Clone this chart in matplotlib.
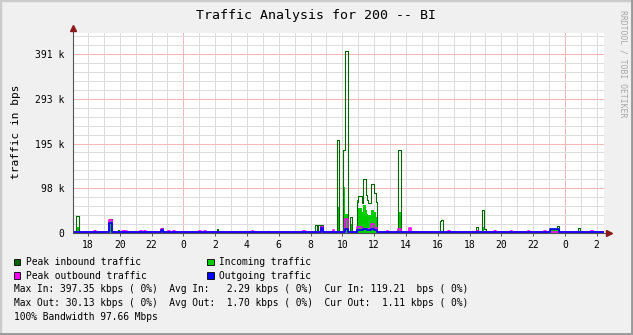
import numpy as np
import matplotlib
matplotlib.use('Agg')
import matplotlib.pyplot as plt
from matplotlib.lines import Line2D

# time axis in hours, 0 = first midnight; values in kbps
T_START, T_END = -6.94, 26.46

# (time, value) breakpoints, value holds until the next time
peak_in = [(-6.94, 2), (-6.75, 36), (-6.58, 2), (-4.65, 31), (-4.47, 2), (-4.12, 6), (-4.04, 2),
           (-1.42, 10), (-1.26, 2), (2.10, 8), (2.18, 2), (5.30, 4), (5.38, 2),
           (8.29, 17), (8.41, 2), (8.50, 17), (8.60, 2), (8.67, 17), (8.79, 2),
           (9.67, 204), (9.80, 2), (10.04, 181), (10.19, 397.35), (10.34, 2), (10.48, 34), (10.59, 2),
           (10.90, 68), (11.00, 80), (11.22, 64), (11.32, 117), (11.47, 82), (11.55, 72),
           (11.64, 65), (11.80, 107), (11.97, 86), (12.10, 68), (12.18, 2),
           (13.50, 181), (13.70, 2), (16.15, 26), (16.23, 28), (16.31, 2),
           (18.41, 12), (18.51, 2), (18.77, 50), (18.90, 8), (19.04, 2),
           (23.06, 8), (23.50, 14), (23.63, 2), (24.82, 10), (24.93, 2), (26.46, 2)]

incoming = [(-6.94, 1), (-6.75, 12), (-6.58, 1), (-4.65, 26), (-4.47, 1), (-1.42, 7), (-1.26, 1),
            (8.67, 8), (8.79, 1), (9.67, 57), (9.80, 1), (10.04, 100), (10.19, 40), (10.34, 1),
            (10.48, 20), (10.59, 1), (10.90, 72), (11.00, 55), (11.22, 45), (11.32, 60),
            (11.47, 50), (11.55, 40), (11.64, 38), (11.80, 50), (11.97, 45), (12.10, 35), (12.18, 1),
            (13.50, 46), (13.70, 1), (16.15, 3), (16.31, 1), (18.77, 13), (18.90, 1),
            (23.06, 5), (23.63, 1), (26.46, 1)]

peak_out = [(-6.94, 2.5), (-5.60, 4), (-5.48, 2.5), (-4.65, 28), (-4.47, 2.5), (-3.88, 4), (-3.76, 2.5),
            (-3.65, 4), (-3.55, 2.5), (-2.72, 4), (-2.62, 2.5), (-2.45, 4), (-2.35, 2.5),
            (-1.42, 8), (-1.26, 2.5), (-0.95, 4), (-0.85, 2.5), (-0.62, 4), (-0.52, 2.5),
            (1.00, 4), (1.10, 2.5), (1.30, 4), (1.40, 2.5), (4.30, 4), (4.40, 2.5),
            (7.55, 4), (7.65, 2.5), (8.67, 13), (8.79, 2.5), (9.40, 5), (9.50, 2.5),
            (10.19, 30.13), (10.34, 2.5), (10.90, 13), (11.22, 8), (11.80, 20), (11.97, 10), (12.18, 2.5),
            (12.80, 4), (12.90, 2.5), (13.50, 8), (13.70, 2.5), (14.20, 10), (14.30, 2.5),
            (16.65, 4), (16.75, 2.5), (18.45, 4), (18.55, 2.5), (19.55, 4), (19.65, 2.5),
            (20.60, 4), (20.70, 2.5), (21.65, 4), (21.75, 2.5), (22.70, 4), (22.80, 2.5),
            (25.65, 4), (25.75, 2.5), (26.46, 2.5)]

outgoing = [(-6.94, 1.5), (-4.65, 22), (-4.47, 1.5), (-1.42, 6), (-1.26, 1.5), (8.67, 10), (8.79, 1.5),
            (10.19, 8), (10.34, 1.5), (10.90, 7), (11.22, 5), (11.32, 8), (11.55, 5), (11.80, 9),
            (11.97, 6), (12.18, 1.5), (23.06, 7.4), (23.63, 1.5), (26.46, 1.5)]

y_ticks = [0, 97.66, 195.31, 292.97, 390.63]
y_labels = ['0', '98 k', '195 k', '293 k', '391 k']
x_ticks = list(range(-6, 27, 2))
x_labels = [str(h % 24) for h in x_ticks]

legend_items = [('Peak inbound traffic', '#006600'), ('Incoming traffic', '#00CC00'),
                ('Peak outbound traffic', '#FF00FF'), ('Outgoing traffic', '#0000FF')]
stats_lines = ['Max In: 397.35 kbps ( 0%)  Avg In:   2.29 kbps ( 0%)  Cur In: 119.21  bps ( 0%)',
               'Max Out: 30.13 kbps ( 0%)  Avg Out:  1.70 kbps ( 0%)  Cur Out:  1.11 kbps ( 0%)',
               '100% Bandwidth 97.66 Mbps']

MONO = 'DejaVu Sans Mono'
W, H = 633, 335


def px(x, y):
    return x / W, 1 - y / H


def unzip(pairs):
    t = np.array([p[0] for p in pairs])
    v = np.array([p[1] for p in pairs])
    return t, v


fig = plt.figure(figsize=(W / 100, H / 100), dpi=100)
fig.patch.set_facecolor('#F0F0F0')

left, top, right, bottom = 73, 32.7, 604, 232.7
ax = fig.add_axes([left / W, 1 - bottom / H, (right - left) / W, (bottom - top) / H])
ax.set_facecolor('white')
ax.set_xlim(T_START, T_END)
ax.set_ylim(0, 438)

# grid
for h in np.arange(-6, 27, 1):
    c = '#F2B8B8' if h % 24 == 0 else '#DDDDDD'
    ax.axvline(h, color=c, lw=0.75, zorder=1)
for k in range(1, 23):
    v = k * 97.65625 / 5
    c = '#F2B8B8' if k % 5 == 0 else '#DDDDDD'
    ax.axhline(v, color=c, lw=0.75, zorder=1)

t, v = unzip(incoming)
ax.fill_between(t, v, step='post', color='#00CC00', lw=0, zorder=2)
t, v = unzip(peak_in)
ax.step(t, v, where='post', color='#006600', lw=0.8, zorder=3)
t, v = unzip(peak_out)
ax.step(t, v, where='post', color='#FF00FF', lw=1.2, zorder=4)
t, v = unzip(outgoing)
ax.step(t, v, where='post', color='#0000FF', lw=1.2, zorder=5)

for s in ax.spines.values():
    s.set_visible(False)
ax.set_yticks(y_ticks)
ax.set_yticklabels(y_labels, fontfamily=MONO, fontsize=7)
ax.set_xticks(x_ticks)
ax.set_xticklabels(x_labels, fontfamily=MONO, fontsize=7)
ax.tick_params(axis='y', length=0, pad=6)
ax.tick_params(axis='x', length=2, width=0.7, color='#555555', pad=3)

# axes with arrows
fig.add_artist(Line2D([px(left, 0)[0], px(left, 0)[0]], [px(0, bottom)[1], px(0, 28)[1]],
                      color='#555555', lw=0.8))
fig.add_artist(Line2D([px(left, 0)[0], px(609, 0)[0]], [px(0, bottom)[1], px(0, bottom)[1]],
                      color='#555555', lw=0.8, zorder=0))
fig.add_artist(Line2D([px(left, 28)[0]], [px(left, 28)[1]], marker='^', ms=4.5, color='#8B1A1A', lw=0))
fig.add_artist(Line2D([px(609, bottom)[0]], [px(609, bottom)[1]], marker='>', ms=4.5, color='#8B1A1A', lw=0))

# texts
fig.text(*px(316, 16), 'Traffic Analysis for 200 -- BI', fontfamily=MONO, fontsize=9.5,
         ha='center', va='center')
fig.text(*px(16, 132), 'traffic in bps', fontfamily=MONO, fontsize=8, rotation=90,
         ha='center', va='center')
fig.text(*px(623, 64), 'RRDTOOL / TOBI OETIKER', fontfamily=MONO, fontsize=5.9, rotation=270,
         ha='center', va='center', color='#A8A8A8')

# legend
for i, (label, color) in enumerate(legend_items):
    col, row = i % 2, i // 2
    bx = 14 if col == 0 else 207
    y = 262 + row * 13.6
    fig.patches.append(plt.Rectangle(px(bx, y + 3.2), 6.5 / W, 6.5 / H, transform=fig.transFigure,
                                     facecolor=color, edgecolor='black', lw=0.6))
    fig.text(*px(bx + 12, y), label, fontfamily=MONO, fontsize=6.9, ha='left', va='center')

for i, line in enumerate(stats_lines):
    fig.text(*px(14, 289.5 + i * 13.9), line, fontfamily=MONO, fontsize=6.9, ha='left', va='center')

# frame
fig.add_artist(Line2D([0, 0, 1], [0, 1, 1], transform=fig.transFigure, color='#CBCBCB', lw=2.5))
fig.add_artist(Line2D([0, 1, 1], [0, 0, 1], transform=fig.transFigure, color='#999999', lw=3.5))

fig.savefig('out.png', dpi=100, facecolor=fig.get_facecolor())
